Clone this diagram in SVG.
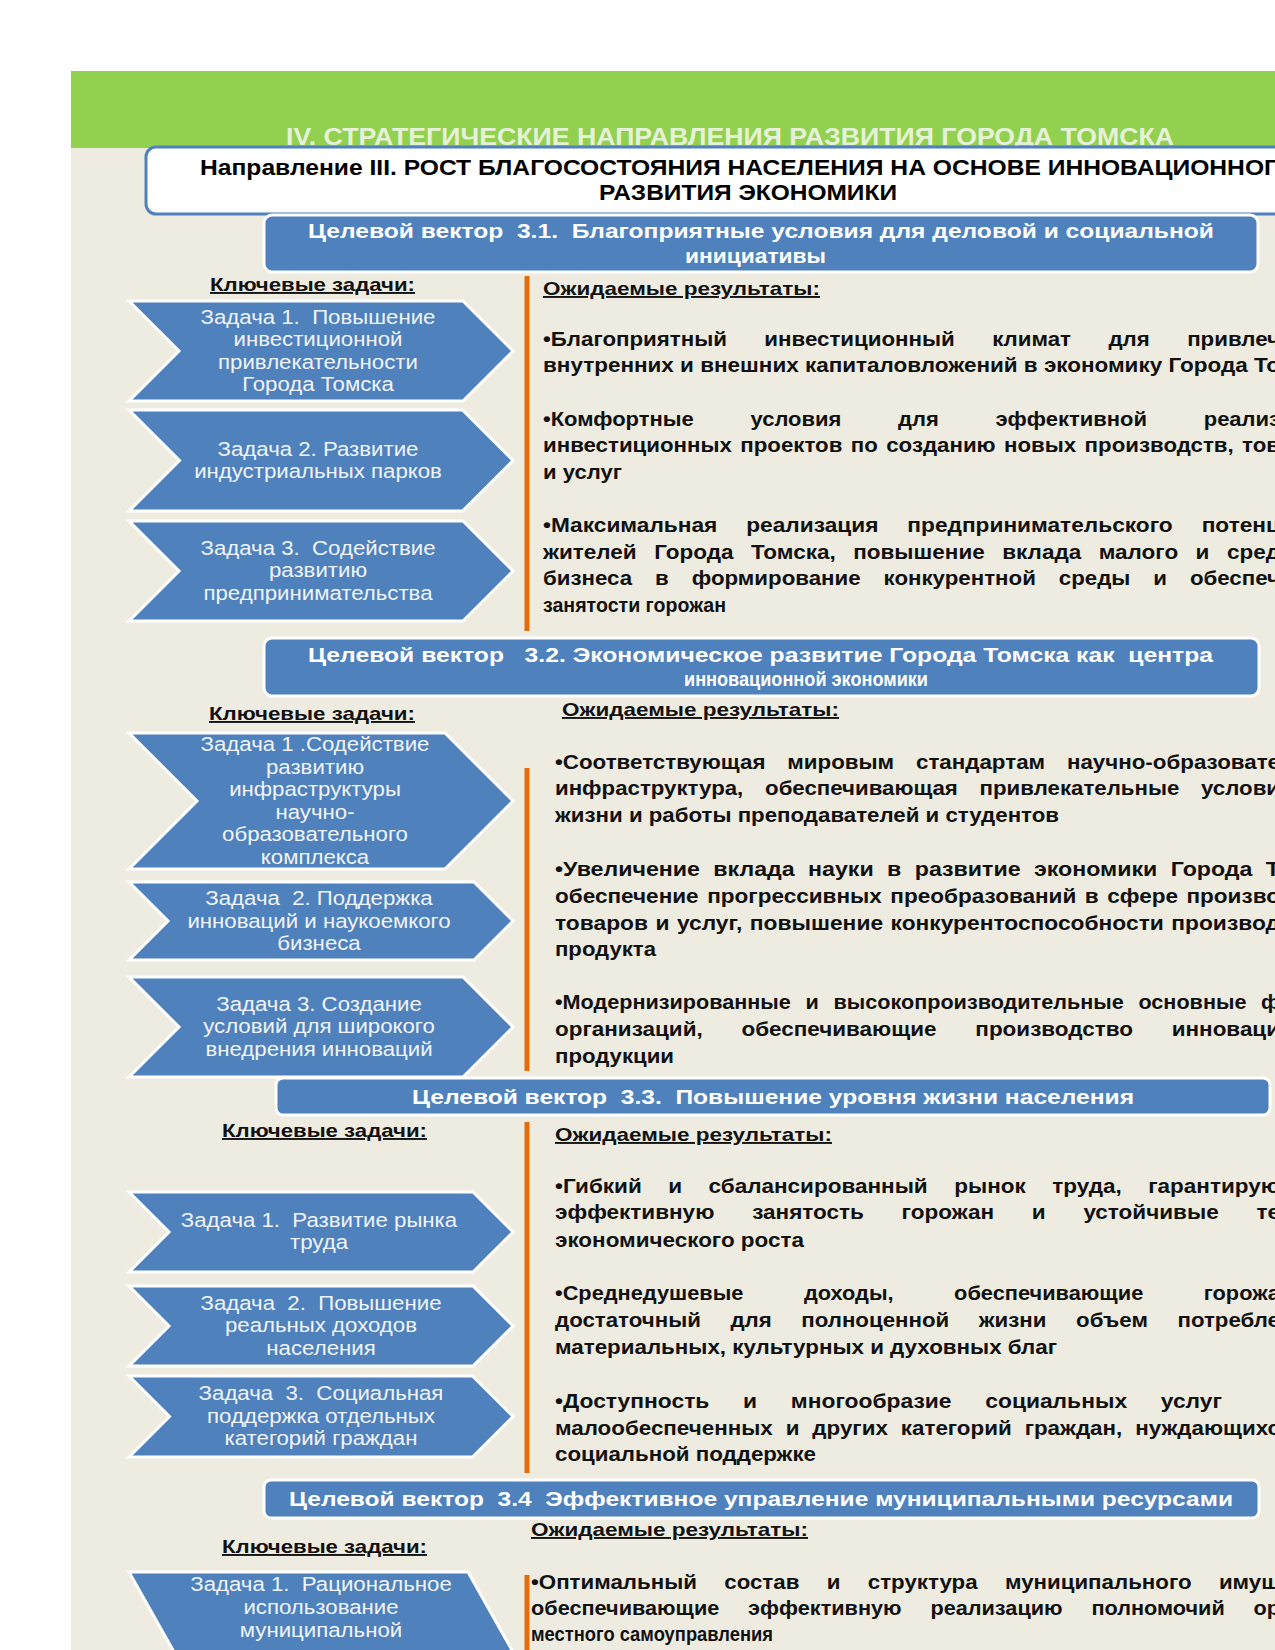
<svg xmlns="http://www.w3.org/2000/svg" width="1275" height="1650" viewBox="0 0 1275 1650">
<defs>
<style>
.bg{fill:#eeece1}
.chev{fill:#4f81bd;stroke:#ffffff;stroke-width:3}
.vec{fill:#4f81bd;stroke:#ffffff;stroke-width:3}
.vt{font-family:"Liberation Sans",Arial,sans-serif;font-weight:bold;font-size:21px;fill:#ffffff}
.ct{font-family:"Liberation Sans",Arial,sans-serif;font-size:19.5px;fill:#f0f4fa;text-anchor:middle}
.kt{font-family:"Liberation Sans",Arial,sans-serif;font-weight:bold;font-size:19px;fill:#111111;text-decoration:underline}
.bt{font-family:"Liberation Sans",Arial,sans-serif;font-weight:bold;font-size:20px;fill:#111111}
.orl{stroke:#e46c0a;stroke-width:5}
</style>
</defs>
<rect x="0" y="0" width="1275" height="1650" fill="#ffffff"/>
<rect x="71" y="148" width="1204" height="1502" class="bg"/>
<g id="title-band">
<rect x="71" y="71" width="1204" height="77" fill="#92d050"/>
<text x="286" y="145" font-family="Liberation Sans, Arial, sans-serif" font-weight="bold" font-size="23" fill="#e6f2d8" textLength="888" lengthAdjust="spacingAndGlyphs">IV. СТРАТЕГИЧЕСКИЕ НАПРАВЛЕНИЯ РАЗВИТИЯ ГОРОДА ТОМСКА</text>
</g>
<g id="direction">
<rect x="146" y="147" width="1200" height="67" rx="10" fill="#ffffff" stroke="#4f81bd" stroke-width="3"/>
<text x="200" y="175" font-family="Liberation Sans, Arial, sans-serif" font-weight="bold" font-size="22" fill="#000000" textLength="1078" lengthAdjust="spacingAndGlyphs">Направление III. РОСТ БЛАГОСОСТОЯНИЯ НАСЕЛЕНИЯ НА ОСНОВЕ ИННОВАЦИОННОГ</text>
<text x="599" y="200" font-family="Liberation Sans, Arial, sans-serif" font-weight="bold" font-size="22" fill="#000000" textLength="298" lengthAdjust="spacingAndGlyphs">РАЗВИТИЯ ЭКОНОМИКИ</text>
</g>

<g id="separators">
<line x1="527" y1="276" x2="527" y2="631" class="orl"/>
<line x1="527" y1="768" x2="527" y2="1071" class="orl"/>
<line x1="527" y1="1122" x2="527" y2="1473" class="orl"/>
<line x1="527" y1="1575" x2="527" y2="1650" class="orl"/>
</g>

<g id="vector-3-1">
<rect x="264" y="215" width="994" height="57" rx="8" class="vec"/>
<text x="308" y="238" class="vt" xml:space="preserve" textLength="906" lengthAdjust="spacingAndGlyphs">Целевой вектор  3.1.  Благоприятные условия для деловой и социальной</text>
<text x="685" y="263" class="vt" textLength="141" lengthAdjust="spacingAndGlyphs">инициативы</text>
</g>
<g id="tasks-3-1">
<text x="210" y="291" class="kt" textLength="205" lengthAdjust="spacingAndGlyphs">Ключевые задачи:</text>
<g id="task-3-1-1">
<polygon points="129,301 463,301 513,351 463,401 129,401 179,351" class="chev"/>
<g transform="translate(318 0) scale(1.14 1)">
<text x="0" y="324" class="ct" xml:space="preserve">Задача 1.  Повышение</text>
<text x="0" y="346.5" class="ct">инвестиционной</text>
<text x="0" y="369" class="ct">привлекательности</text>
<text x="0" y="391.5" class="ct">Города Томска</text>
</g>
</g>
<g id="task-3-1-2">
<polygon points="129,410 462.5,410 513,460.5 462.5,511 129,511 179.5,460.5" class="chev"/>
<g transform="translate(318 0) scale(1.14 1)">
<text x="0" y="456" class="ct">Задача 2. Развитие</text>
<text x="0" y="478.5" class="ct">индустриальных парков</text>
</g>
</g>
<g id="task-3-1-3">
<polygon points="129,521 463,521 513,571 463,621 129,621 179,571" class="chev"/>
<g transform="translate(318 0) scale(1.14 1)">
<text x="0" y="555" class="ct" xml:space="preserve">Задача 3.  Содействие</text>
<text x="0" y="577.5" class="ct">развитию</text>
<text x="0" y="600" class="ct">предпринимательства</text>
</g>
</g>
</g>
<g id="results-3-1">
<text x="543" y="295" class="kt" font-size="20" textLength="277" lengthAdjust="spacingAndGlyphs">Ожидаемые результаты:</text>
<text x="543" y="346" class="bt" word-spacing="28" textLength="737" lengthAdjust="spacingAndGlyphs">•Благоприятный инвестиционный климат для привлеч</text>
<text x="543" y="372" class="bt" textLength="737" lengthAdjust="spacingAndGlyphs">внутренних и внешних капиталовложений в экономику Города То</text>
<text x="543" y="426" class="bt" word-spacing="46" textLength="737" lengthAdjust="spacingAndGlyphs">•Комфортные условия для эффективной реализ</text>
<text x="543" y="452" class="bt" word-spacing="2" textLength="737" lengthAdjust="spacingAndGlyphs">инвестиционных проектов по созданию новых производств, тов</text>
<text x="543" y="479" class="bt" textLength="79" lengthAdjust="spacingAndGlyphs">и услуг</text>
<text x="543" y="532" class="bt" word-spacing="20" textLength="737" lengthAdjust="spacingAndGlyphs">•Максимальная реализация предпринимательского потенц</text>
<text x="543" y="559" class="bt" word-spacing="10" textLength="737" lengthAdjust="spacingAndGlyphs">жителей Города Томска, повышение вклада малого и сред</text>
<text x="543" y="585" class="bt" word-spacing="15" textLength="737" lengthAdjust="spacingAndGlyphs">бизнеса в формирование конкурентной среды и обеспеч</text>
<text x="543" y="612" class="bt" textLength="183" lengthAdjust="spacingAndGlyphs">занятости горожан</text>
</g>

<g id="vector-3-2">
<rect x="264" y="638" width="995" height="58" rx="8" class="vec"/>
<text x="308" y="662" class="vt" xml:space="preserve" textLength="905" lengthAdjust="spacingAndGlyphs">Целевой вектор   3.2. Экономическое развитие Города Томска как  центра</text>
<text x="684" y="686" class="vt" textLength="244" lengthAdjust="spacingAndGlyphs">инновационной экономики</text>
</g>
<g id="tasks-3-2">
<text x="209" y="720" class="kt" textLength="206" lengthAdjust="spacingAndGlyphs">Ключевые задачи:</text>
<g id="task-3-2-1">
<polygon points="129,733 445,733 513,801 445,869 129,869 197,801" class="chev"/>
<g transform="translate(315 0) scale(1.14 1)">
<text x="0" y="751" class="ct">Задача 1 .Содействие</text>
<text x="0" y="774" class="ct">развитию</text>
<text x="0" y="796.5" class="ct">инфраструктуры</text>
<text x="0" y="819" class="ct">научно-</text>
<text x="0" y="841.5" class="ct">образовательного</text>
<text x="0" y="864" class="ct">комплекса</text>
</g>
</g>
<g id="task-3-2-2">
<polygon points="129,882 474,882 513,921 474,960 129,960 168,921" class="chev"/>
<g transform="translate(319 0) scale(1.14 1)">
<text x="0" y="905" class="ct" xml:space="preserve">Задача  2. Поддержка</text>
<text x="0" y="928" class="ct">инноваций и наукоемкого</text>
<text x="0" y="950" class="ct">бизнеса</text>
</g>
</g>
<g id="task-3-2-3">
<polygon points="129,977 463,977 513,1027 463,1077 129,1077 179,1027" class="chev"/>
<g transform="translate(319 0) scale(1.14 1)">
<text x="0" y="1011" class="ct">Задача 3. Создание</text>
<text x="0" y="1033.5" class="ct">условий для широкого</text>
<text x="0" y="1056" class="ct">внедрения инноваций</text>
</g>
</g>
</g>
<g id="results-3-2">
<text x="562" y="716" class="kt" font-size="20" textLength="277" lengthAdjust="spacingAndGlyphs">Ожидаемые результаты:</text>
<text x="555" y="769" class="bt" word-spacing="14" textLength="725" lengthAdjust="spacingAndGlyphs">•Соответствующая мировым стандартам научно-образовате</text>
<text x="555" y="795" class="bt" word-spacing="14" textLength="725" lengthAdjust="spacingAndGlyphs">инфраструктура, обеспечивающая привлекательные услови</text>
<text x="555" y="822" class="bt" textLength="504" lengthAdjust="spacingAndGlyphs">жизни и работы преподавателей и студентов</text>
<text x="555" y="876" class="bt" word-spacing="6" textLength="725" lengthAdjust="spacingAndGlyphs">•Увеличение вклада науки в развитие экономики Города Т</text>
<text x="555" y="903" class="bt" word-spacing="2" textLength="725" lengthAdjust="spacingAndGlyphs">обеспечение прогрессивных преобразований в сфере произво</text>
<text x="555" y="930" class="bt" word-spacing="1" textLength="725" lengthAdjust="spacingAndGlyphs">товаров и услуг, повышение конкурентоспособности производ</text>
<text x="555" y="956" class="bt" textLength="101" lengthAdjust="spacingAndGlyphs">продукта</text>
<text x="555" y="1009" class="bt" word-spacing="8" textLength="725" lengthAdjust="spacingAndGlyphs">•Модернизированные и высокопроизводительные основные ф</text>
<text x="555" y="1036" class="bt" word-spacing="29" textLength="725" lengthAdjust="spacingAndGlyphs">организаций, обеспечивающие производство инноваци</text>
<text x="555" y="1063" class="bt" textLength="119" lengthAdjust="spacingAndGlyphs">продукции</text>
</g>

<g id="vector-3-3">
<rect x="276" y="1078" width="994" height="37" rx="7" class="vec"/>
<text x="412" y="1104" class="vt" xml:space="preserve" textLength="722" lengthAdjust="spacingAndGlyphs">Целевой вектор  3.3.  Повышение уровня жизни населения</text>
</g>
<g id="tasks-3-3">
<text x="222" y="1137" class="kt" textLength="205" lengthAdjust="spacingAndGlyphs">Ключевые задачи:</text>
<g id="task-3-3-1">
<polygon points="129,1192 473,1192 513,1232 473,1272 129,1272 169,1232" class="chev"/>
<g transform="translate(319 0) scale(1.14 1)">
<text x="0" y="1227" class="ct" xml:space="preserve">Задача 1.  Развитие рынка</text>
<text x="0" y="1249.5" class="ct">труда</text>
</g>
</g>
<g id="task-3-3-2">
<polygon points="129,1286 473,1286 513,1326 473,1366 129,1366 169,1326" class="chev"/>
<g transform="translate(321 0) scale(1.14 1)">
<text x="0" y="1310" class="ct" xml:space="preserve">Задача  2.  Повышение</text>
<text x="0" y="1332.5" class="ct">реальных доходов</text>
<text x="0" y="1355" class="ct">населения</text>
</g>
</g>
<g id="task-3-3-3">
<polygon points="129,1376 472.5,1376 513,1416.5 472.5,1457 129,1457 169.5,1416.5" class="chev"/>
<g transform="translate(321 0) scale(1.14 1)">
<text x="0" y="1400.5" class="ct" xml:space="preserve">Задача  3.  Социальная</text>
<text x="0" y="1423" class="ct">поддержка отдельных</text>
<text x="0" y="1445.5" class="ct">категорий граждан</text>
</g>
</g>
</g>
<g id="results-3-3">
<text x="555" y="1141" class="kt" font-size="20" textLength="277" lengthAdjust="spacingAndGlyphs">Ожидаемые результаты:</text>
<text x="555" y="1193" class="bt" word-spacing="18" textLength="725" lengthAdjust="spacingAndGlyphs">•Гибкий и сбалансированный рынок труда, гарантирую</text>
<text x="555" y="1219" class="bt" word-spacing="28" textLength="725" lengthAdjust="spacingAndGlyphs">эффективную занятость горожан и устойчивые те</text>
<text x="555" y="1247" class="bt" textLength="249" lengthAdjust="spacingAndGlyphs">экономического роста</text>
<text x="555" y="1300" class="bt" word-spacing="50" textLength="725" lengthAdjust="spacingAndGlyphs">•Среднедушевые доходы, обеспечивающие горожа</text>
<text x="555" y="1327" class="bt" word-spacing="21" textLength="725" lengthAdjust="spacingAndGlyphs">достаточный для полноценной жизни объем потребле</text>
<text x="555" y="1354" class="bt" textLength="502" lengthAdjust="spacingAndGlyphs">материальных, культурных и духовных благ</text>
<text x="555" y="1408" class="bt" word-spacing="24" textLength="667" lengthAdjust="spacingAndGlyphs">•Доступность и многообразие социальных услуг</text>
<text x="555" y="1435" class="bt" word-spacing="6" textLength="725" lengthAdjust="spacingAndGlyphs">малообеспеченных и других категорий граждан, нуждающихс</text>
<text x="555" y="1461" class="bt" textLength="261" lengthAdjust="spacingAndGlyphs">социальной поддержке</text>
</g>

<g id="vector-3-4">
<rect x="264" y="1480" width="995" height="38" rx="7" class="vec"/>
<text x="289" y="1506" class="vt" xml:space="preserve" textLength="944" lengthAdjust="spacingAndGlyphs">Целевой вектор  3.4  Эффективное управление муниципальными ресурсами</text>
</g>
<g id="tasks-3-4">
<text x="222" y="1553" class="kt" textLength="205" lengthAdjust="spacingAndGlyphs">Ключевые задачи:</text>
<g id="task-3-4-1">
<polygon points="129,1572 468,1572 513,1652 468,1732 129,1732 174,1652" class="chev"/>
<g transform="translate(321 0) scale(1.14 1)">
<text x="0" y="1591" class="ct" xml:space="preserve">Задача 1.  Рациональное</text>
<text x="0" y="1614" class="ct">использование</text>
<text x="0" y="1637" class="ct">муниципальной</text>
</g>
</g>
</g>
<g id="results-3-4">
<text x="531" y="1536" class="kt" font-size="20" textLength="277" lengthAdjust="spacingAndGlyphs">Ожидаемые результаты:</text>
<text x="531" y="1589" class="bt" word-spacing="19" textLength="749" lengthAdjust="spacingAndGlyphs">•Оптимальный состав и структура муниципального имущ</text>
<text x="531" y="1615" class="bt" word-spacing="21" textLength="749" lengthAdjust="spacingAndGlyphs">обеспечивающие эффективную реализацию полномочий ор</text>
<text x="531" y="1641" class="bt" textLength="242" lengthAdjust="spacingAndGlyphs">местного самоуправления</text>
</g>
</svg>
